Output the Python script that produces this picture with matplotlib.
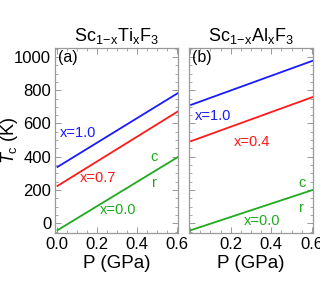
"""Tc vs pressure, Sc(1-x)Ti(x)F3 and Sc(1-x)Al(x)F3"""

import matplotlib
matplotlib.use("Agg")
import matplotlib.pyplot as plt
from matplotlib.ticker import MultipleLocator

plt.rcParams["font.family"] = ["Liberation Sans", "DejaVu Sans"]
plt.rcParams["mathtext.fontset"] = "custom"
plt.rcParams["mathtext.rm"] = "Liberation Sans"
plt.rcParams["mathtext.it"] = "Liberation Sans:italic"

# data: straight lines, endpoints
pressure = [0.0, 0.607]
ti_tc = {
    "x=1.0": [336, 784],
    "x=0.7": [222, 674],
    "x=0.0": [-44, 400],
}
al_tc = {
    "x=1.0": [710, 978],
    "x=0.4": [492, 760],
    "x=0.0": [-42, 202],
}
colors = ["#1a1aff", "#ff1a1a", "#1faa1f"]

# label positions (data coords)
ti_labels = [(0.016, 541), (0.115, 272), (0.214, 80)]
al_labels = [(0.025, 643), (0.215, 487), (0.265, 14)]
ti_cr = [(0.487, 398), (0.487, 242)]
al_cr = [(0.55, 242), (0.55, 92)]

titles = [r"Sc$_{\mathrm{1\!-\!x}}$Ti$_{\mathrm{x}}$F$_{\mathrm{3}}$",
          r"Sc$_{\mathrm{1\!-\!x}}$Al$_{\mathrm{x}}$F$_{\mathrm{3}}$"]

fig = plt.figure(figsize=(3.2, 2.99), dpi=100)
ax_a = fig.add_axes([0.1728, 0.2217, 0.3844, 0.6187])
ax_b = fig.add_axes([0.5900, 0.2217, 0.3890, 0.6187])

panels = [
    (ax_a, ti_tc, ti_labels, ti_cr, "(a)"),
    (ax_b, al_tc, al_labels, al_cr, "(b)"),
]

for i, (ax, series, labpos, crpos, tag) in enumerate(panels):
    for (name, vals), col, (lx, ly) in zip(series.items(), colors, labpos):
        ax.plot(pressure, vals, color=col, lw=1.3, solid_capstyle="butt")
        ax.text(lx, ly, name, color=col, fontsize=10.5, ha="left", va="center")
    for (cx, cy), ch in zip(crpos, ["c", "r"]):
        ax.text(cx, cy, ch, color=colors[2], fontsize=10.5, ha="center", va="center")
    ax.text(0.025, 0.985, tag, transform=ax.transAxes, fontsize=11.5,
            ha="left", va="top")

    ax.set_xlim(-0.007, 0.607)
    ax.set_ylim(-56, 1055)
    ax.xaxis.set_major_locator(MultipleLocator(0.2))
    ax.xaxis.set_minor_locator(MultipleLocator(0.05))
    ax.yaxis.set_major_locator(MultipleLocator(200))
    ax.yaxis.set_minor_locator(MultipleLocator(50))
    ax.tick_params(which="both", direction="in", top=True, right=True,
                   color="#999999", labelsize=12, pad=3)
    ax.tick_params(which="major", length=4, width=0.7)
    ax.tick_params(which="minor", length=2, width=0.6)
    for sp in ax.spines.values():
        sp.set_color("#999999")
        sp.set_linewidth(0.9)
    ax.set_xlabel("P (GPa)", fontsize=13.5, labelpad=2)
    ax.set_title(titles[i], fontsize=13, pad=5)

ax_a.set_xticks([0.0, 0.2, 0.4, 0.6])
ax_a.set_xticklabels(["0.0", "0.2", "0.4", "0.6"])
ax_b.set_xticks([0.0, 0.2, 0.4, 0.6])
ax_b.set_xticklabels(["", "0.2", "0.4", "0.6"])
ax_b.set_yticklabels([])
ax_a.set_ylabel(r"$\mathit{T}_{\mathrm{c}}$ (K)", fontsize=13)
ax_a.yaxis.set_label_coords(-0.29, 0.5)

fig.savefig("out.png", dpi=100, facecolor="white")
plt.close(fig)
